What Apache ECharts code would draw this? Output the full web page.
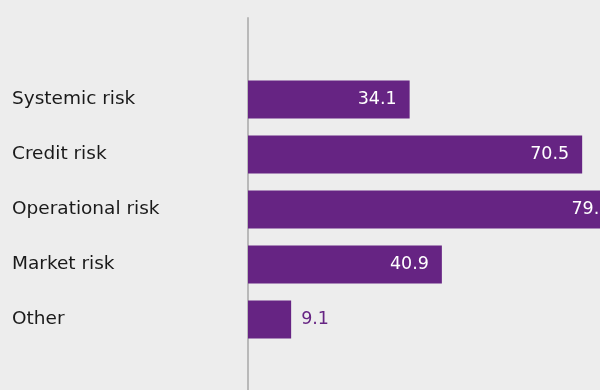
<!DOCTYPE html>
<html>
<head>
<meta charset="utf-8">
<script src="https://cdn.jsdelivr.net/npm/echarts@6/dist/echarts.min.js"></script>
<style>
  html, body { margin: 0; padding: 0; background: #ededed; }
  #chart { width: 600px; height: 390px; }
</style>
</head>
<body>
<div id="chart"></div>
<script>
// Risk categories, top to bottom
const categories = ['Systemic risk', 'Credit risk', 'Operational risk', 'Market risk', 'Other'];
// Share of respondents (%)
const values = [34.1, 70.5, 79.2, 40.9, 9.1];

const PURPLE = '#662483';
const FONT = 'DejaVu Sans';

const chart = echarts.init(document.getElementById('chart'), null, { renderer: 'canvas' });

// Long bars carry their value inside the bar end, short ones just outside it
const seriesData = values.map(function (v) {
  const small = v < 15;
  return {
    value: v,
    label: small
      ? { position: 'right', distance: 10, color: PURPLE }
      : { position: 'insideRight', distance: 13, color: '#ffffff' }
  };
});

chart.setOption({
  backgroundColor: '#ededed',
  animation: false,
  grid: [
    // plot area runs past the right edge, so the longest bar is cut off
    { left: 248, width: 474, top: 72, height: 275, outerBoundsMode: 'none' },
    // full-height baseline rule
    { left: 248, right: 0, top: 18, bottom: -5, outerBoundsMode: 'none' }
  ],
  xAxis: [
    { type: 'value', gridIndex: 0, min: 0, max: 100, show: false },
    { type: 'value', gridIndex: 1, min: 0, max: 1, show: false }
  ],
  yAxis: [
    {
      type: 'category',
      gridIndex: 0,
      data: categories,
      inverse: true,
      axisLine: { show: false },
      axisTick: { show: false },
      axisLabel: {
        align: 'left',
        margin: 236,
        color: '#1a1a1a',
        fontFamily: FONT,
        fontSize: 18.5
      }
    },
    {
      type: 'value',
      gridIndex: 1,
      min: 0,
      max: 1,
      axisLine: { show: true, lineStyle: { color: '#b9b9b9', width: 2 } },
      axisTick: { show: false },
      axisLabel: { show: false },
      splitLine: { show: false }
    }
  ],
  series: [{
    type: 'bar',
    xAxisIndex: 0,
    yAxisIndex: 0,
    data: seriesData,
    barWidth: 38,
    clip: false,
    itemStyle: { color: PURPLE },
    label: {
      show: true,
      fontFamily: FONT,
      fontSize: 17.5,
      formatter: function (p) { return p.value.toFixed(1); }
    }
  }]
});
</script>
</body>
</html>
